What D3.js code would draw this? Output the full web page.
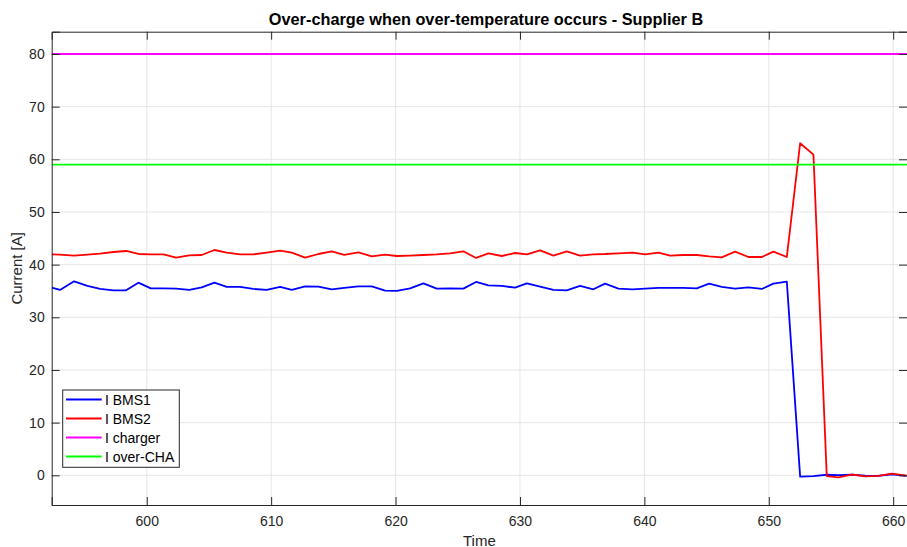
<!DOCTYPE html>
<html>
<head>
<meta charset="utf-8">
<script src="https://cdn.jsdelivr.net/npm/d3@7"></script>
<style>
  html, body { margin: 0; padding: 0; background: #fff; }
  svg { display: block; font-family: "Liberation Sans", Arial, Helvetica, sans-serif; }
</style>
</head>
<body>
<svg id="chart" width="907" height="547"></svg>
<script>
const time = [592.36, 593.03, 594.16, 595.23, 596.25, 597.32, 598.34, 599.33, 600.32, 601.34,
  602.36, 603.42, 604.42, 605.44, 606.43, 607.50, 608.57, 609.64, 610.72, 611.66,
  612.73, 613.80, 614.87, 615.87, 617.01, 618.09, 619.16, 620.10, 621.17, 622.24,
  623.31, 624.38, 625.45, 626.47, 627.46, 628.54, 629.61, 630.55, 631.62, 632.69,
  633.76, 634.83, 635.90, 636.84, 637.91, 639.05, 640.06, 641.13, 642.07, 643.13,
  644.21, 645.20, 646.22, 647.29, 648.36, 649.44, 650.37, 651.45, 652.52, 653.59,
  654.66, 655.60, 656.67, 657.74, 658.81, 659.89, 661.07];
const iBMS1 = [35.63, 35.19, 36.83, 35.95, 35.38, 35.13, 35.13, 36.58, 35.50, 35.50,
  35.44, 35.19, 35.70, 36.58, 35.76, 35.76, 35.38, 35.19, 35.76, 35.19,
  35.89, 35.82, 35.32, 35.60, 35.89, 35.89, 35.06, 35.00, 35.50, 36.45,
  35.44, 35.50, 35.44, 36.71, 36.07, 35.95, 35.63, 36.45, 35.82, 35.19,
  35.13, 35.95, 35.32, 36.39, 35.44, 35.31, 35.44, 35.57, 35.57, 35.57,
  35.50, 36.39, 35.76, 35.44, 35.70, 35.38, 36.39, 36.77, -0.26, -0.15,
  0.10, 0.05, 0.10, -0.05, -0.10, 0.20, -0.10];
const iBMS2 = [41.96, 41.90, 41.71, 41.90, 42.09, 42.40, 42.59, 42.02, 41.96, 41.96,
  41.33, 41.77, 41.83, 42.78, 42.28, 41.96, 41.96, 42.28, 42.66, 42.28,
  41.33, 42.02, 42.53, 41.87, 42.34, 41.58, 41.90, 41.64, 41.71, 41.83,
  41.96, 42.15, 42.53, 41.27, 42.15, 41.64, 42.21, 41.96, 42.72, 41.71,
  42.53, 41.71, 41.96, 42.02, 42.15, 42.28, 41.96, 42.28, 41.71, 41.83,
  41.83, 41.58, 41.39, 42.47, 41.45, 41.45, 42.47, 41.45, 63.05, 60.90,
  -0.15, -0.38, 0.15, -0.22, -0.10, 0.30, -0.05];
const iCharger = 80;
const iOverCHA = 59;
const xTicks = [600, 610, 620, 630, 640, 650, 660];
const yTicks = [0, 10, 20, 30, 40, 50, 60, 70, 80];
const seriesNames = ["I BMS1", "I BMS2", "I charger", "I over-CHA"];
const seriesColors = ["#0000ff", "#ff0000", "#ff00ff", "#00ff00"];
const titleText = "Over-charge when over-temperature occurs - Supplier B";
const xLabel = "Time";
const yLabel = "Current [A]";

const svg = d3.select("#chart");
const L = 51.7, R = 907, T = 31.7, B = 505;
const x = d3.scaleLinear().domain([592.36, 661.11]).range([L, R]);
const y = d3.scaleLinear().domain([-5.64, 84.23]).range([B, T]);

svg.append("defs").append("clipPath").attr("id", "clip")
  .append("rect").attr("x", L).attr("y", T).attr("width", R - L).attr("height", B - T);

// grid
const grid = svg.append("g");
grid.selectAll(".gx").data(xTicks).enter().append("line")
  .attr("x1", d => x(d)).attr("x2", d => x(d)).attr("y1", T).attr("y2", B)
  .attr("stroke", "#e6e6e6").attr("stroke-width", 1);
grid.selectAll(".gy").data(yTicks).enter().append("line")
  .attr("x1", L).attr("x2", R).attr("y1", d => y(d)).attr("y2", d => y(d))
  .attr("stroke", "#e6e6e6").attr("stroke-width", 1);

// data
const plot = svg.append("g").attr("clip-path", "url(#clip)");
const line = d3.line().x(d => x(d[0])).y(d => y(d[1]));
const s1 = time.map((t, i) => [t, iBMS1[i]]);
const s2 = time.map((t, i) => [t, iBMS2[i]]);
const dom = x.domain();
const s3 = [[dom[0], iCharger], [dom[1], iCharger]];
const s4 = [[dom[0], iOverCHA], [dom[1], iOverCHA]];
[s1, s2, s3, s4].forEach((s, i) => {
  plot.append("path").datum(s).attr("d", line).attr("fill", "none")
    .attr("stroke", seriesColors[i]).attr("stroke-width", 1.8)
    .attr("stroke-linejoin", "round");
});

// axes
const axCol = "#262626";
const tickLen = 8;
const xAxisB = d3.axisBottom(x).tickValues(xTicks).tickSize(-tickLen).tickPadding(11).tickFormat(d3.format("d"));
const xAxisT = d3.axisTop(x).tickValues(xTicks).tickSize(-tickLen).tickFormat("");
const yAxisL = d3.axisLeft(y).tickValues(yTicks).tickSize(-tickLen).tickPadding(7).tickFormat(d3.format("d"));
const yAxisR = d3.axisRight(y).tickValues(yTicks).tickSize(-tickLen).tickFormat("");
function styleAxis(g) {
  g.select(".domain").attr("stroke", axCol).attr("stroke-width", 1);
  g.selectAll(".tick line").attr("stroke", axCol).attr("stroke-width", 1);
  g.selectAll(".tick text").attr("fill", axCol).attr("font-size", 14)
    .attr("font-family", "'Liberation Sans', Arial, sans-serif");
}
svg.append("g").attr("transform", `translate(0,${B})`).call(xAxisB).call(styleAxis);
svg.append("g").attr("transform", `translate(0,${T})`).call(xAxisT).call(styleAxis);
svg.append("g").attr("transform", `translate(${L},0)`).call(yAxisL).call(styleAxis);
svg.append("g").attr("transform", `translate(${R},0)`).call(yAxisR).call(styleAxis);

// labels
svg.append("text").attr("x", 486).attr("y", 25).attr("text-anchor", "middle")
  .attr("font-size", 16.3).attr("font-weight", "bold").attr("fill", "#000").text(titleText);
svg.append("text").attr("x", (L + R) / 2).attr("y", 545.5).attr("text-anchor", "middle")
  .attr("font-size", 15).attr("fill", axCol).text(xLabel);
svg.append("text").attr("transform", `translate(22,${(T + B) / 2}) rotate(-90)`)
  .attr("text-anchor", "middle").attr("font-size", 15).attr("fill", axCol).text(yLabel);

// legend
const lg = svg.append("g");
lg.append("rect").attr("x", 62.7).attr("y", 390).attr("width", 116.6).attr("height", 77.3)
  .attr("fill", "#fff").attr("stroke", axCol).attr("stroke-width", 1);
seriesNames.forEach((n, i) => {
  const yy = 399.5 + i * 19;
  lg.append("line").attr("x1", 66).attr("x2", 101.7).attr("y1", yy).attr("y2", yy)
    .attr("stroke", seriesColors[i]).attr("stroke-width", 1.8);
  lg.append("text").attr("x", 105).attr("y", yy + 5).attr("font-size", 14)
    .attr("fill", "#000").text(n);
});
</script>
</body>
</html>
